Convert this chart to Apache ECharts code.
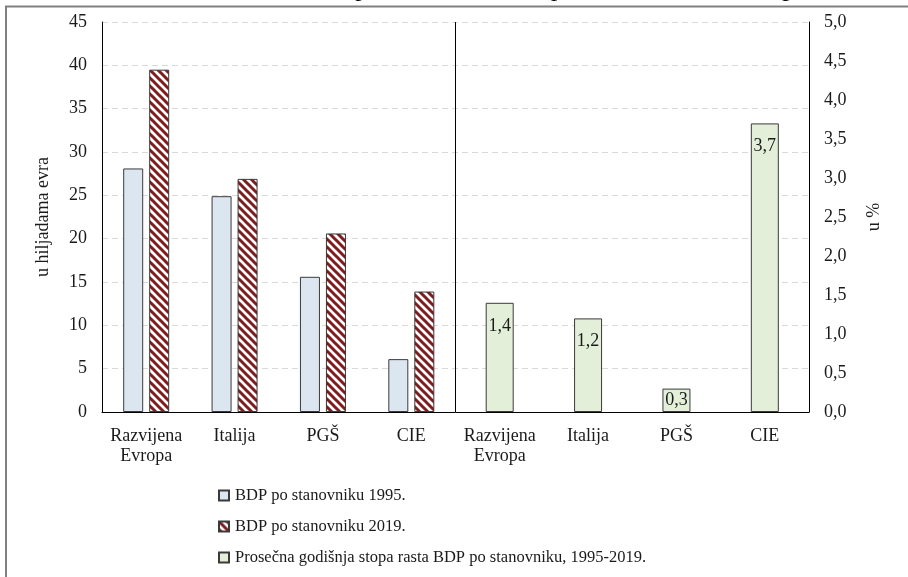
<!DOCTYPE html>
<html>
<head>
<meta charset="utf-8">
<script src="https://cdn.jsdelivr.net/npm/echarts@6/dist/echarts.min.js"></script>
<style>
  html, body { margin: 0; padding: 0; background: #fff; }
  #chart { width: 908px; height: 577px; }
</style>
</head>
<body>
<div id="chart"></div>
<script>
// Categories: first block = levels (left axis), second block = growth (right axis)
const categories = ['Razvijena\nEvropa', 'Italija', 'PGŠ', 'CIE', 'Razvijena\nEvropa', 'Italija', 'PGŠ', 'CIE'];

// BDP po stanovniku, u hiljadama evra
const gdp1995 = [28.1, 24.9, 15.6, 6.1, null, null, null, null];
const gdp2019 = [39.5, 26.9, 20.6, 13.9, null, null, null, null];

// Prosečna godišnja stopa rasta, u %
const growth = [null, null, null, null, 1.4, 1.2, 0.3, 3.7];

const seriesNames = [
  'BDP po stanovniku 1995.',
  'BDP po stanovniku 2019.',
  'Prosečna godišnja stopa rasta BDP po stanovniku, 1995-2019.'
];

const leftAxis = { name: 'u hiljadama evra', min: 0, max: 45, interval: 5 };
const rightAxis = { name: 'u %', min: 0, max: 5, interval: 0.5 };

const SERIF = '"Liberation Serif", "Times New Roman", serif';
const TEXT = '#1a1a1a';

// Diagonal red/white hatch used for the 2019 bars
function hatchPattern() {
  const s = 8;
  const c = document.createElement('canvas');
  c.width = s; c.height = s;
  const g = c.getContext('2d');
  g.fillStyle = '#ffffff';
  g.fillRect(0, 0, s, s);
  g.strokeStyle = '#7d1d1d';
  g.lineWidth = 3;
  g.beginPath();
  for (let k = -1; k <= 1; k++) {
    g.moveTo(-1, k * s - 1);
    g.lineTo(s + 1, k * s + s + 1);
  }
  g.stroke();
  return c;
}

const comma = v => v.toFixed(1).replace('.', ',');

const chart = echarts.init(document.getElementById('chart'), null, { renderer: 'canvas' });

chart.setOption({
  animation: false,
  backgroundColor: '#ffffff',
  textStyle: { fontFamily: SERIF, color: TEXT },
  graphic: [
    {
      type: 'text', left: 300, top: -24, silent: true,
      style: {
        text: 'BDP po stanovniku i stopa rasta, 1995–2019. godine',
        font: 'italic 26px ' + SERIF, fill: '#000'
      }
    },
    { type: 'line', silent: true, shape: { x1: 5, y1: 6.5, x2: 908, y2: 6.5 }, style: { stroke: '#808080', lineWidth: 2 } },
    { type: 'line', silent: true, shape: { x1: 6, y1: 6, x2: 6, y2: 577 }, style: { stroke: '#808080', lineWidth: 2 } }
  ],
  grid: { left: 102, right: 99, top: 22, bottom: 165 },
  legend: {
    orient: 'vertical',
    left: 213,
    top: 482,
    itemWidth: 10,
    itemHeight: 10,
    itemGap: 14,
    icon: 'rect',
    textStyle: { fontFamily: SERIF, fontSize: 16.5, color: TEXT, padding: [0, 0, 0, 1] },
    data: seriesNames
  },
  xAxis: [
    {
      type: 'category',
      data: categories,
      axisLine: { lineStyle: { color: '#000', width: 1 } },
      axisTick: { show: false },
      axisLabel: { fontFamily: SERIF, fontSize: 18, color: TEXT, margin: 14, lineHeight: 20, interval: 0 },
      splitLine: { show: false }
    },
    { type: 'category', data: categories, show: false },
    {
      // Blank value axis over the same span; its split line at the midpoint
      // separates the level block from the growth block
      type: 'value', min: 0, max: categories.length, interval: categories.length / 2,
      axisLine: { show: false }, axisTick: { show: false }, axisLabel: { show: false },
      splitLine: { show: true, lineStyle: { color: '#000', width: 1, type: 'solid' } }
    }
  ],
  yAxis: [
    {
      type: 'value',
      name: leftAxis.name,
      nameLocation: 'middle',
      nameGap: 50,
      nameTextStyle: { fontFamily: SERIF, fontSize: 18, color: TEXT },
      min: leftAxis.min, max: leftAxis.max, interval: leftAxis.interval,
      axisLine: { show: true, lineStyle: { color: '#000' } },
      axisTick: { show: false },
      axisLabel: { fontFamily: SERIF, fontSize: 18, color: TEXT, margin: 15 },
      splitLine: { show: true, lineStyle: { color: '#d9d9d9', type: [6, 4], width: 1 } }
    },
    {
      type: 'value',
      name: rightAxis.name,
      nameLocation: 'middle',
      nameGap: 56,
      nameRotate: 90,
      nameTextStyle: { fontFamily: SERIF, fontSize: 18, color: TEXT },
      min: rightAxis.min, max: rightAxis.max, interval: rightAxis.interval,
      axisLine: { show: true, lineStyle: { color: '#000' } },
      axisTick: { show: false },
      axisLabel: { fontFamily: SERIF, fontSize: 18, color: TEXT, margin: 15, formatter: comma },
      splitLine: { show: false }
    }
  ],
  series: [
    {
      name: seriesNames[0],
      type: 'bar',
      xAxisIndex: 0, yAxisIndex: 0,
      barWidth: 20, barGap: '30%',
      itemStyle: { color: '#dce6f1', borderColor: '#3a3a3a', borderWidth: 1 },
      data: gdp1995
    },
    {
      name: seriesNames[1],
      type: 'bar',
      xAxisIndex: 0, yAxisIndex: 0,
      barWidth: 20, barGap: '30%',
      itemStyle: { color: { image: hatchPattern(), repeat: 'repeat' }, borderColor: '#3a3a3a', borderWidth: 1 },
      data: gdp2019
    },
    {
      name: seriesNames[2],
      type: 'bar',
      xAxisIndex: 1, yAxisIndex: 1,
      barWidth: 28,
      itemStyle: { color: '#e4efda', borderColor: '#3a3a3a', borderWidth: 1 },
      label: {
        show: true,
        position: 'insideTop',
        distance: 14,
        fontFamily: SERIF, fontSize: 18, color: TEXT,
        formatter: p => comma(p.value)
      },
      data: growth.map(v => v == null ? null
        : (v < 0.5 ? { value: v, label: { position: 'inside' } } : v))
    }
  ]
});
</script>
</body>
</html>
